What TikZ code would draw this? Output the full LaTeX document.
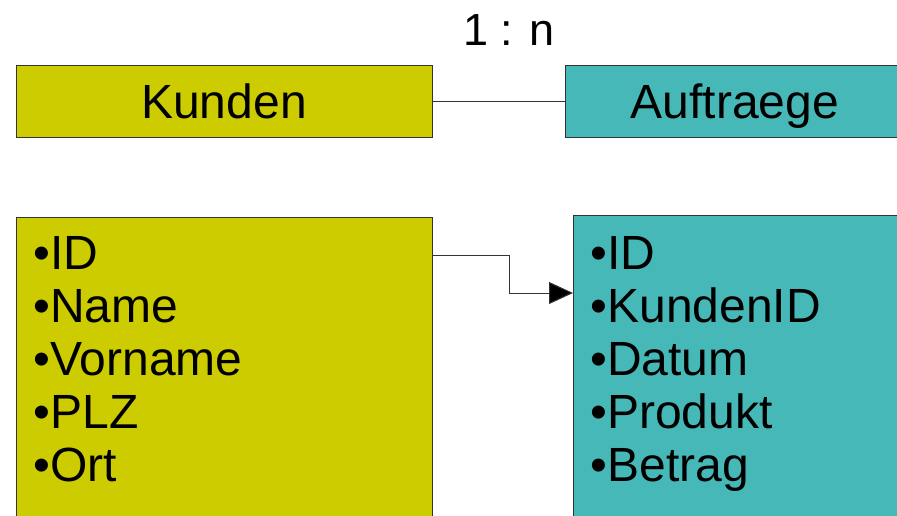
\documentclass[tikz,border=0pt]{standalone}
\usepackage{fontspec}
\setmainfont{Liberation Sans}
\usetikzlibrary{arrows.meta}

\definecolor{kundgelb}{RGB}{204,204,0}
\definecolor{auftrtuerkis}{RGB}{71,184,184}

\tikzset{
  kopf/.style={draw=black!80, line width=1pt, minimum height=72pt,
    text height=34pt, text depth=0pt, inner sep=0pt,
    font=\fontsize{48}{54}\selectfont},
  liste/.style={draw=black!80, line width=1pt, anchor=north west,
    inner xsep=17pt, inner ysep=19pt, font=\fontsize{48}{53}\selectfont}
}

\begin{document}
\begin{tikzpicture}[x=1pt,y=-1pt]
\useasboundingbox (0,0) rectangle (897,516);
\clip (0,0) rectangle (897,516);

% Tabellenkoepfe
\node[kopf, fill=kundgelb, minimum width=416pt] (kunden) at (224,102) {Kunden};
\node[kopf, fill=auftrtuerkis, minimum width=340pt] (auftraege) at (735,102) {Auftraege};
\node[font=\fontsize{45}{54}\selectfont, text height=33pt, text depth=0pt, inner sep=0pt] (kard) at (509,29) {1 : n};
\draw[black!80, line width=1pt] (kunden) -- (auftraege);

% Felder
\node[liste, fill=kundgelb] (kfelder) at (16,217)
  {\parbox[t][330pt][t]{382pt}{•ID\\•Name\\•Vorname\\•PLZ\\•Ort}};
\node[liste, fill=auftrtuerkis, inner ysep=21pt] (afelder) at (573,215)
  {\parbox[t][330pt][t]{320pt}{•ID\\•KundenID\\•Datum\\•Produkt\\•Betrag}};

\draw[black!80, line width=1pt, -{Triangle[length=24pt,width=22pt,fill=black]}]
  ([yshift=-38pt]kfelder.north east) -- ++(76,0) |- ([yshift=-78pt]afelder.north west);
\end{tikzpicture}
\end{document}
